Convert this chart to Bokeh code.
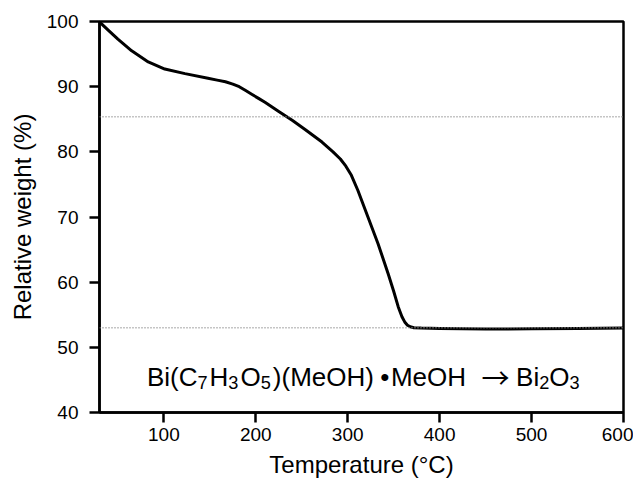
from bokeh.plotting import figure
from bokeh.models import Span, Label, FixedTicker
from bokeh.embed import file_html
from bokeh.resources import INLINE

temperature = [30, 32.5, 40, 50, 65, 83, 101, 123, 148, 158, 167, 175, 182, 189,
               196, 203, 210, 225, 240, 254, 272, 284, 292, 298, 304, 311, 322,
               333, 344, 350, 355, 359, 362, 365, 368, 372, 380, 400, 450, 500,
               550, 600]
weight = [99.9, 99.6, 98.6, 97.3, 95.5, 93.8, 92.7, 92.0, 91.3, 91.0, 90.75, 90.4,
          90.0, 89.4, 88.8, 88.2, 87.6, 86.2, 84.8, 83.4, 81.5, 80.0, 78.9, 77.8,
          76.4, 74.1, 70.0, 65.9, 61.3, 58.6, 56.2, 54.7, 53.9, 53.4, 53.15, 53.0,
          52.95, 52.9, 52.8, 52.85, 52.9, 52.95]
x_ticks = [100, 200, 300, 400, 500, 600]
y_ticks = [40, 50, 60, 70, 80, 90, 100]
ref_levels = [85.4, 53.0]

FONT = "Liberation Sans"
FS = 26.0            # main text size of the annotation
SUB = 0.7 * FS       # subscript size
SUB_DROP = -5        # subscript baseline shift (px)
SUB_PAD = 2          # extra space after a subscript (px)
ANNOT_X, ANNOT_Y = 81.6, 45.4   # anchor of annotation (data units)

# approximate Arial/Liberation Sans advance widths (em)
W = {"B": .667, "i": .222, "(": .333, ")": .333, "C": .722, "H": .722, "O": .778,
     "M": .833, "e": .556}


def width(s, size):
    return sum(W.get(ch, .556) for ch in s) * size


pieces_left = [("Bi(C", False), ("7", True), ("H", False), ("3", True),
               ("O", False), ("5", True), (")(MeOH)", False)]
pieces_mid = [("MeOH", False)]
pieces_right = [("Bi", False), ("2", True), ("O", False), ("3", True)]
DOT_CENTER, DOT_GAP = 11, 17
ARROW_CENTER, ARROW_GAP = 29.5, 50

p = figure(width=633, height=484, x_range=(30, 600), y_range=(40, 100),
           output_backend="svg", toolbar_location=None,
           min_border_left=99, min_border_right=10, min_border_top=21,
           min_border_bottom=72)

p.grid.visible = False
p.outline_line_color = "black"
p.outline_line_width = 2.5
p.background_fill_color = "white"
p.border_fill_color = "white"

for ax in (p.xaxis[0], p.yaxis[0]):
    ax.axis_line_width = 2.5
    ax.major_tick_line_width = 2.5
    ax.major_tick_out = 10
    ax.major_tick_in = 0
    ax.minor_tick_line_color = None
    ax.major_label_text_font = FONT
    ax.major_label_text_font_size = "19px"
    ax.major_label_text_color = "black"
    ax.axis_label_text_font = FONT
    ax.axis_label_text_font_size = "24px"
    ax.axis_label_text_font_style = "normal"
    ax.axis_label_text_color = "black"

p.xaxis.ticker = FixedTicker(ticks=x_ticks)
p.yaxis.ticker = FixedTicker(ticks=y_ticks)
p.xaxis.axis_label = "Temperature (°C)"
p.yaxis.axis_label = "Relative weight (%)"
p.xaxis.major_label_standoff = 5
p.yaxis.major_label_standoff = 11
p.xaxis.axis_label_standoff = 7
p.yaxis.axis_label_standoff = 8

for lv in ref_levels:
    p.add_layout(Span(location=lv, dimension="width", line_color="#8a8a8a",
                      line_width=1.5, line_dash="1 2"))

p.line(temperature, weight, line_color="black", line_width=3,
       line_join="round", line_cap="round")


def put(txt, off, size, dy=0, font=FONT, align="left"):
    p.add_layout(Label(x=ANNOT_X, y=ANNOT_Y, x_offset=off, y_offset=dy, text=txt,
                       text_font=font, text_font_size=f"{size}px",
                       text_align=align, text_baseline="alphabetic",
                       text_color="black"))


def run(pieces, off, pad=0):
    for txt, sub in pieces:
        size = SUB if sub else FS
        put(txt, off, size, SUB_DROP if sub else 0)
        off += width(txt, size) + (pad if sub else 0)
    return off


off = run(pieces_left, 0, SUB_PAD)
put("\u2022", off + DOT_CENTER, FS, 0, align="center")
off = run(pieces_mid, off + DOT_GAP)
put("\u2192", off + ARROW_CENTER, 28, 0, font="Noto Sans CJK JP", align="center")
run(pieces_right, off + ARROW_GAP)

open("out.html", "w").write(file_html(p, INLINE))
